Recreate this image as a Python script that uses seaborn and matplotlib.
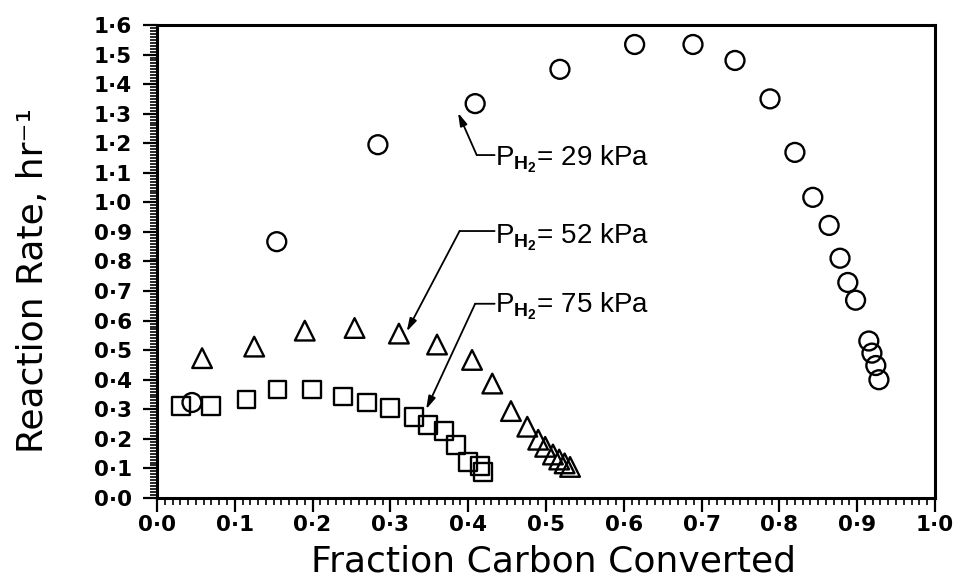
import matplotlib
matplotlib.use('Agg')
import matplotlib.pyplot as plt
import seaborn as sns
import pandas as pd
from matplotlib.ticker import FixedLocator, MultipleLocator

# ---- data ----
circ_x = [0.045, 0.154, 0.284, 0.409, 0.518, 0.614, 0.689, 0.743, 0.788, 0.820,
          0.843, 0.864, 0.878, 0.888, 0.898, 0.915, 0.919, 0.924, 0.928]
circ_y = [0.323, 0.867, 1.195, 1.334, 1.450, 1.534, 1.534, 1.480, 1.350, 1.169,
          1.017, 0.922, 0.811, 0.729, 0.669, 0.531, 0.490, 0.448, 0.400]

tri_x = [0.058, 0.125, 0.190, 0.254, 0.311, 0.360, 0.405, 0.431, 0.455, 0.476,
         0.490, 0.499, 0.509, 0.517, 0.524, 0.531]
tri_y = [0.473, 0.512, 0.566, 0.575, 0.556, 0.519, 0.467, 0.387, 0.294, 0.241,
         0.197, 0.173, 0.147, 0.130, 0.117, 0.105]

sq_x = [0.031, 0.070, 0.115, 0.155, 0.199, 0.239, 0.270, 0.300, 0.330, 0.348,
        0.369, 0.384, 0.400, 0.415, 0.419]
sq_y = [0.310, 0.310, 0.333, 0.367, 0.367, 0.343, 0.323, 0.303, 0.275, 0.247,
        0.227, 0.180, 0.123, 0.107, 0.087]

series_names = ['29 kPa', '52 kPa', '75 kPa']

x_ticks = [0.0, 0.1, 0.2, 0.3, 0.4, 0.5, 0.6, 0.7, 0.8, 0.9, 1.0]
x_tick_labels = ['0·0', '0·1', '0·2', '0·3', '0·4', '0·5', '0·6', '0·7', '0·8', '0·9', '1·0']
y_ticks = [0.0, 0.1, 0.2, 0.3, 0.4, 0.5, 0.6, 0.7, 0.8, 0.9, 1.0, 1.1, 1.2, 1.3, 1.4, 1.5, 1.6]
y_tick_labels = ['0·0', '0·1', '0·2', '0·3', '0·4', '0·5', '0·6', '0·7', '0·8', '0·9',
                 '1·0', '1·1', '1·2', '1·3', '1·4', '1·5', '1·6']

ann_labels = [r'P$_{\mathbf{H_2}}$= 29 kPa', r'P$_{\mathbf{H_2}}$= 52 kPa', r'P$_{\mathbf{H_2}}$= 75 kPa']
ann_text_x = [0.434, 0.434, 0.434]
ann_text_y = [1.124, 0.863, 0.629]
ann_knee_x = [0.411, 0.389, 0.409]
ann_knee_y = [1.160, 0.903, 0.657]
ann_tip_x = [0.387, 0.321, 0.346]
ann_tip_y = [1.303, 0.563, 0.300]

# ---- style ----
sns.set_style('ticks')
plt.rcParams['font.family'] = ['Liberation Sans', 'DejaVu Sans']
plt.rcParams['text.color'] = 'black'
plt.rcParams['axes.labelcolor'] = 'black'
plt.rcParams['mathtext.fontset'] = 'custom'
plt.rcParams['mathtext.rm'] = 'Liberation Sans'
plt.rcParams['mathtext.bf'] = 'Liberation Sans:bold'
plt.rcParams['mathtext.it'] = 'Liberation Sans:italic'
plt.rcParams['mathtext.default'] = 'regular'

fig = plt.figure(figsize=(9.6, 5.81), dpi=100)
ax = fig.add_axes([0.1635, 0.1429, 0.8104, 0.8141])

df = pd.concat([
    pd.DataFrame({'x': circ_x, 'y': circ_y, 'series': series_names[0]}),
    pd.DataFrame({'x': tri_x, 'y': tri_y, 'series': series_names[1]}),
    pd.DataFrame({'x': sq_x, 'y': sq_y, 'series': series_names[2]}),
], ignore_index=True)

marker_specs = {series_names[0]: ('o', 185), series_names[1]: ('^', 200), series_names[2]: ('s', 165)}
for name in series_names:
    m, s = marker_specs[name]
    sub = df[df['series'] == name]
    sns.scatterplot(data=sub, x='x', y='y', marker=m, s=s, ax=ax, legend=False,
                    color='black', linewidth=1.7, zorder=3)
    coll = ax.collections[-1]
    coll.set_facecolor('none')
    coll.set_edgecolor('black')
    coll.set_linewidth(1.7)

ax.set_xlim(0, 1.0)
ax.set_ylim(0, 1.6)

tick_font = dict(fontsize=15.5, fontweight='bold', family='DejaVu Sans', color='black')
ax.xaxis.set_major_locator(FixedLocator(x_ticks))
ax.yaxis.set_major_locator(FixedLocator(y_ticks))
ax.xaxis.set_minor_locator(MultipleLocator(0.01))
ax.yaxis.set_minor_locator(MultipleLocator(0.01))
ax.set_xticklabels(x_tick_labels, **tick_font)
ax.set_yticklabels(y_tick_labels, **tick_font)

ax.tick_params(axis='both', which='both', direction='out', colors='black',
               top=False, right=False)
ax.tick_params(axis='both', which='major', length=10, width=1.6)
ax.tick_params(axis='both', which='minor', length=5, width=1.2)
ax.tick_params(axis='x', which='major', pad=2)
ax.tick_params(axis='y', which='major', pad=8)

for sp in ax.spines.values():
    sp.set_visible(True)
    sp.set_linewidth(2.2)
    sp.set_color('black')

ax.set_xlabel('Fraction Carbon Converted', fontsize=26, family='DejaVu Sans', color='black')
ax.xaxis.set_label_coords(0.51, -0.098)
ax.set_ylabel('Reaction Rate, hr⁻¹', fontsize=26, family='DejaVu Sans', color='black')
ax.yaxis.set_label_coords(-0.137, 0.459)

for i in range(3):
    ax.annotate('', xy=(ann_tip_x[i], ann_tip_y[i]), xytext=(ann_knee_x[i], ann_knee_y[i]),
                arrowprops=dict(arrowstyle='-|>,head_length=0.7,head_width=0.2',
                                color='black', lw=1.3, shrinkA=0, shrinkB=0,
                                mutation_scale=11))
    ax.annotate('', xy=(ann_knee_x[i], ann_knee_y[i]), xytext=(ann_text_x[i], ann_knee_y[i]),
                arrowprops=dict(arrowstyle='-', color='black', lw=1.3, shrinkA=0, shrinkB=0))
    ax.text(ann_text_x[i], ann_text_y[i], ann_labels[i], fontsize=20, ha='left',
            va='baseline', color='black')

fig.savefig('out.png', dpi=100)
